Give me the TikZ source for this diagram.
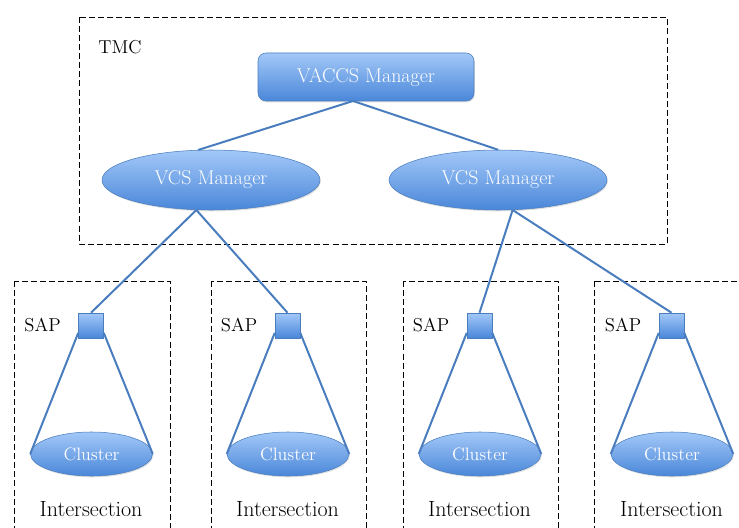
\documentclass[tikz,border=0pt]{standalone}
\usepackage{tikz}
\usetikzlibrary{shapes.geometric,shadows}

\definecolor{boxtop}{HTML}{A3C8F8}
\definecolor{boxbot}{HTML}{4A87D9}
\definecolor{edgeblue}{HTML}{4A7DBE}

\begin{document}
\begin{tikzpicture}[x=0.75pt, y=-0.75pt, line join=round,
  blue node/.style={draw=edgeblue, thin, top color=boxtop, bottom color=boxbot, text=white, inner sep=0pt,
    drop shadow={opacity=0.25, shadow xshift=0.6pt, shadow yshift=-1pt}},
  top node/.style={blue node, rectangle, rounded corners=6pt, minimum width=162pt, minimum height=36pt, font=\fontsize{15}{17}\selectfont},
  vcs node/.style={blue node, ellipse, minimum width=163.5pt, minimum height=45pt, font=\fontsize{15}{17}\selectfont},
  sap node/.style={blue node, rectangle, minimum size=18.75pt},
  cluster node/.style={blue node, ellipse, minimum width=91.5pt, minimum height=33pt, font=\fontsize{13.5}{15}\selectfont},
  label text/.style={font=\fontsize{14}{16}\selectfont, inner sep=0pt},
  link/.style={draw=edgeblue, line width=1.5pt},
  group box/.style={draw, dashed, dash pattern=on 4.5pt off 2.3pt, thin}]

\clip (0,0) rectangle (739,528);

% dashed groups
\draw[group box] (79,17) rectangle (667,244);
\draw[group box] (14,281) rectangle (170,540);
\draw[group box] (211,281) rectangle (366,540);
\draw[group box] (403,281) rectangle (558,540);
\draw[group box] (594,281) rectangle (760,540);

\node[label text](tmc) at (120,47) {TMC};

% managers
\node[top node](vaccs) at (366,77) {VACCS Manager};
\node[vcs node](vcs1) at (211,180) {VCS Manager};
\node[vcs node](vcs2) at (498,180) {VCS Manager};
\coordinate (hub) at (353,101);

\draw[link] (hub) -- (vcs1.113);
\draw[link] (hub) -- (vcs2.north);

% intersections
\foreach \n/\x in {1/91, 2/287.5, 3/479.5, 4/671.5}{
  \node[sap node](sap\n) at (\x,325.5) {};
  \node[label text, anchor=east](saplabel\n) at (\x-30,325) {SAP};
  \node[cluster node](cl\n) at (\x+0.5,454) {Cluster};
  \node[label text, font=\fontsize{16.5}{18}\selectfont](inter\n) at (\x,509) {Intersection};
  \draw[link] (sap\n.210) -- (cl\n.west);
  \draw[link] (sap\n.330) -- (cl\n.east);
}

\draw[link] (vcs1.244) -- (sap1.north);
\draw[link] (vcs1.244) -- (sap2.north);
\draw[link] (vcs2.296) -- (sap3.north);
\draw[link] (vcs2.296) -- (sap4.north);

\end{tikzpicture}
\end{document}
